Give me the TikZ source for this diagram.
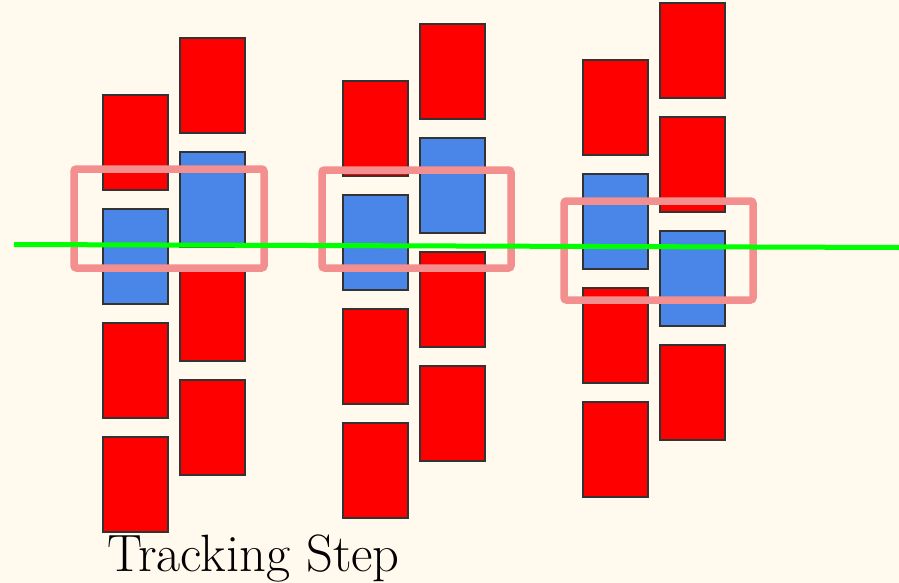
\documentclass[tikz,border=0pt]{standalone}
\definecolor{bgc}{HTML}{FFF9EE}
\definecolor{redc}{HTML}{FF0000}
\definecolor{bluec}{HTML}{4A86E8}
\definecolor{pinkc}{HTML}{F38F8F}
\definecolor{greenc}{HTML}{00FF00}
\definecolor{edgec}{HTML}{333333}
\begin{document}
\begin{tikzpicture}[x=1pt,y=-1pt,
  cell/.style={draw=edgec,line width=2pt,minimum width=65pt,minimum height=95pt,inner sep=0pt,outer sep=0pt},
  redcell/.style={cell,fill=redc},
  bluecell/.style={cell,fill=bluec},
  frame/.style={draw=pinkc,line width=7.5pt,rounded corners=2.5pt},
  trackline/.style={draw=greenc,line width=5pt},
  label/.style={font=\fontsize{52.5}{60}\selectfont,inner sep=0pt,anchor=base west}]
\fill[bgc] (0,0) rectangle (899,583);
\useasboundingbox (0,0) rectangle (899,583);
% column 1 left (x 103-168)
\node[redcell]  (a1) at (135.5,142.5) {};
\node[bluecell] (a2) at (135.5,256.5) {};
\node[redcell]  (a3) at (135.5,370.5) {};
\node[redcell]  (a4) at (135.5,484.5) {};
% column 1 right (x 179-245)
\node[redcell]  (b1) at (212,85.5) {};
\node[bluecell] (b2) at (212,199.5) {};
\node[redcell]  (b3) at (212,313.5) {};
\node[redcell]  (b4) at (212,427.5) {};
% column 2 left (x 343-408)
\node[redcell]  (c1) at (375.5,128.5) {};
\node[bluecell] (c2) at (375.5,242.5) {};
\node[redcell]  (c3) at (375.5,356.5) {};
\node[redcell]  (c4) at (375.5,470.5) {};
% column 2 right (x 419-485)
\node[redcell]  (d1) at (452,71.5) {};
\node[bluecell] (d2) at (452,185.5) {};
\node[redcell]  (d3) at (452,299.5) {};
\node[redcell]  (d4) at (452,413.5) {};
% column 3 left (x 583-648)
\node[redcell]  (e1) at (615.5,107.5) {};
\node[bluecell] (e2) at (615.5,221.5) {};
\node[redcell]  (e3) at (615.5,335.5) {};
\node[redcell]  (e4) at (615.5,449.5) {};
% column 3 right (x 659-725)
\node[redcell]  (f1) at (692,50.5) {};
\node[redcell]  (f2) at (692,164.5) {};
\node[bluecell] (f3) at (692,278.5) {};
\node[redcell]  (f4) at (692,392.5) {};
% frames
\draw[frame] (74,169) rectangle (264,268);
\draw[frame] (322,170) rectangle (511,268);
\draw[frame] (564,201) rectangle (753,300);
% tracking line
\coordinate (g0) at (14,244.5);
\coordinate (g1) at (899,247.5);
\draw[trackline] (g0) -- (g1);
% label
\node[label] (t) at (107,571) {Tracking Step};
\end{tikzpicture}
\end{document}
